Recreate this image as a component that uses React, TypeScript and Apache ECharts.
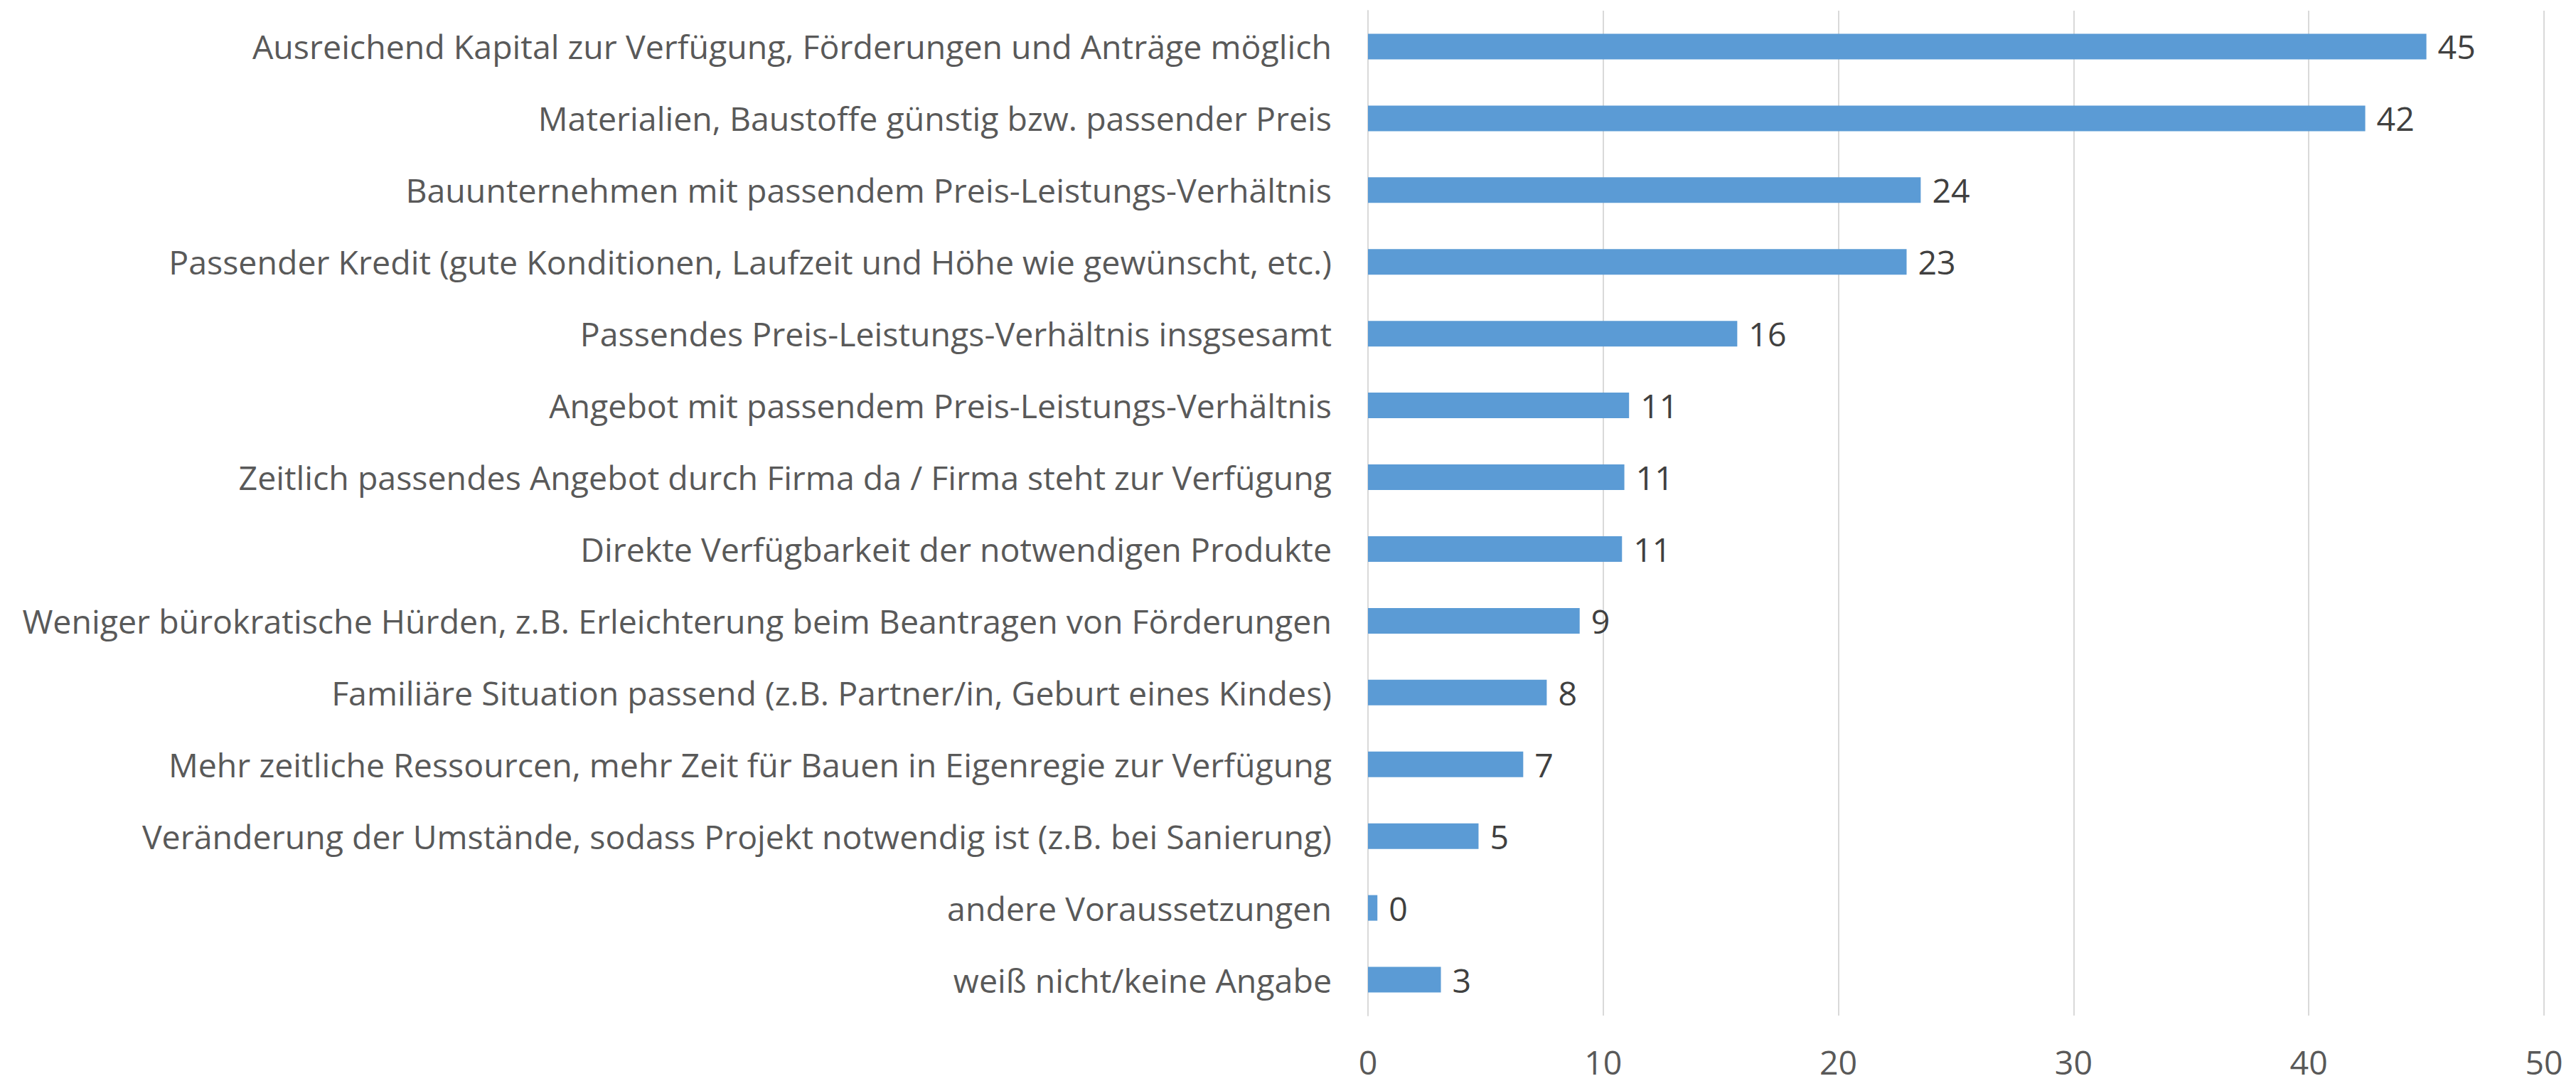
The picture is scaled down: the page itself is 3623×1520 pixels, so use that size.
import React, { useEffect, useRef } from "react";
import * as echarts from "echarts";

const categories: string[] = [
  "Ausreichend Kapital zur Verfügung, Förderungen und Anträge möglich",
  "Materialien, Baustoffe günstig bzw. passender Preis",
  "Bauunternehmen mit passendem Preis-Leistungs-Verhältnis",
  "Passender Kredit (gute Konditionen, Laufzeit und Höhe wie gewünscht, etc.)",
  "Passendes Preis-Leistungs-Verhältnis insgsesamt",
  "Angebot mit passendem Preis-Leistungs-Verhältnis",
  "Zeitlich passendes Angebot durch Firma da / Firma steht zur Verfügung",
  "Direkte Verfügbarkeit der notwendigen Produkte",
  "Weniger bürokratische Hürden, z.B. Erleichterung beim Beantragen von Förderungen",
  "Familiäre Situation passend (z.B. Partner/in, Geburt eines Kindes)",
  "Mehr zeitliche Ressourcen, mehr Zeit für Bauen in Eigenregie zur Verfügung",
  "Veränderung der Umstände, sodass Projekt notwendig ist (z.B. bei Sanierung)",
  "andere Voraussetzungen",
  "weiß nicht/keine Angabe",
];

const values: number[] = [45.0, 42.4, 23.5, 22.9, 15.7, 11.1, 10.9, 10.8, 9.0, 7.6, 6.6, 4.7, 0.4, 3.1];

const axisMin = 0;
const axisMax = 50;
const axisInterval = 10;

const FONT = "'Open Sans', 'Noto Sans', sans-serif";

export default function App() {
  const ref = useRef<HTMLDivElement>(null);
  useEffect(() => {
    document.body.style.margin = "0";
    if (!ref.current) return;
    const chart = echarts.init(ref.current, undefined, { renderer: "svg" });
    chart.setOption({
      animation: false,
      backgroundColor: "#ffffff",
      grid: { left: 1924, right: 45, top: 15, bottom: 92, containLabel: false },
      xAxis: {
        type: "value",
        min: axisMin,
        max: axisMax,
        interval: axisInterval,
        axisLine: { show: false },
        axisTick: { show: false },
        splitLine: { show: true, lineStyle: { color: "#d9d9d9", width: 2 } },
        axisLabel: { fontSize: 46.5, lineHeight: 46, color: "#595959", fontFamily: FONT, margin: 42 },
      },
      yAxis: {
        type: "category",
        inverse: true,
        data: categories,
        axisLine: { show: true, lineStyle: { color: "#d9d9d9", width: 2 } },
        axisTick: { show: false },
        axisLabel: { fontSize: 46.5, color: "#595959", fontFamily: FONT, margin: 51 },
      },
      series: [
        {
          type: "bar",
          data: values,
          barWidth: 36,
          itemStyle: { color: "#5b9bd5" },
          label: {
            show: true,
            position: "right",
            distance: 16,
            fontSize: 46.5,
            color: "#404040",
            fontFamily: FONT,
            formatter: (p: any) => String(Math.round(p.value)),
          },
        },
      ],
    });
    return () => chart.dispose();
  }, []);
  return <div ref={ref} style={{ position: "absolute", left: 0, top: 0, width: 3623, height: 1520 }} />;
}
